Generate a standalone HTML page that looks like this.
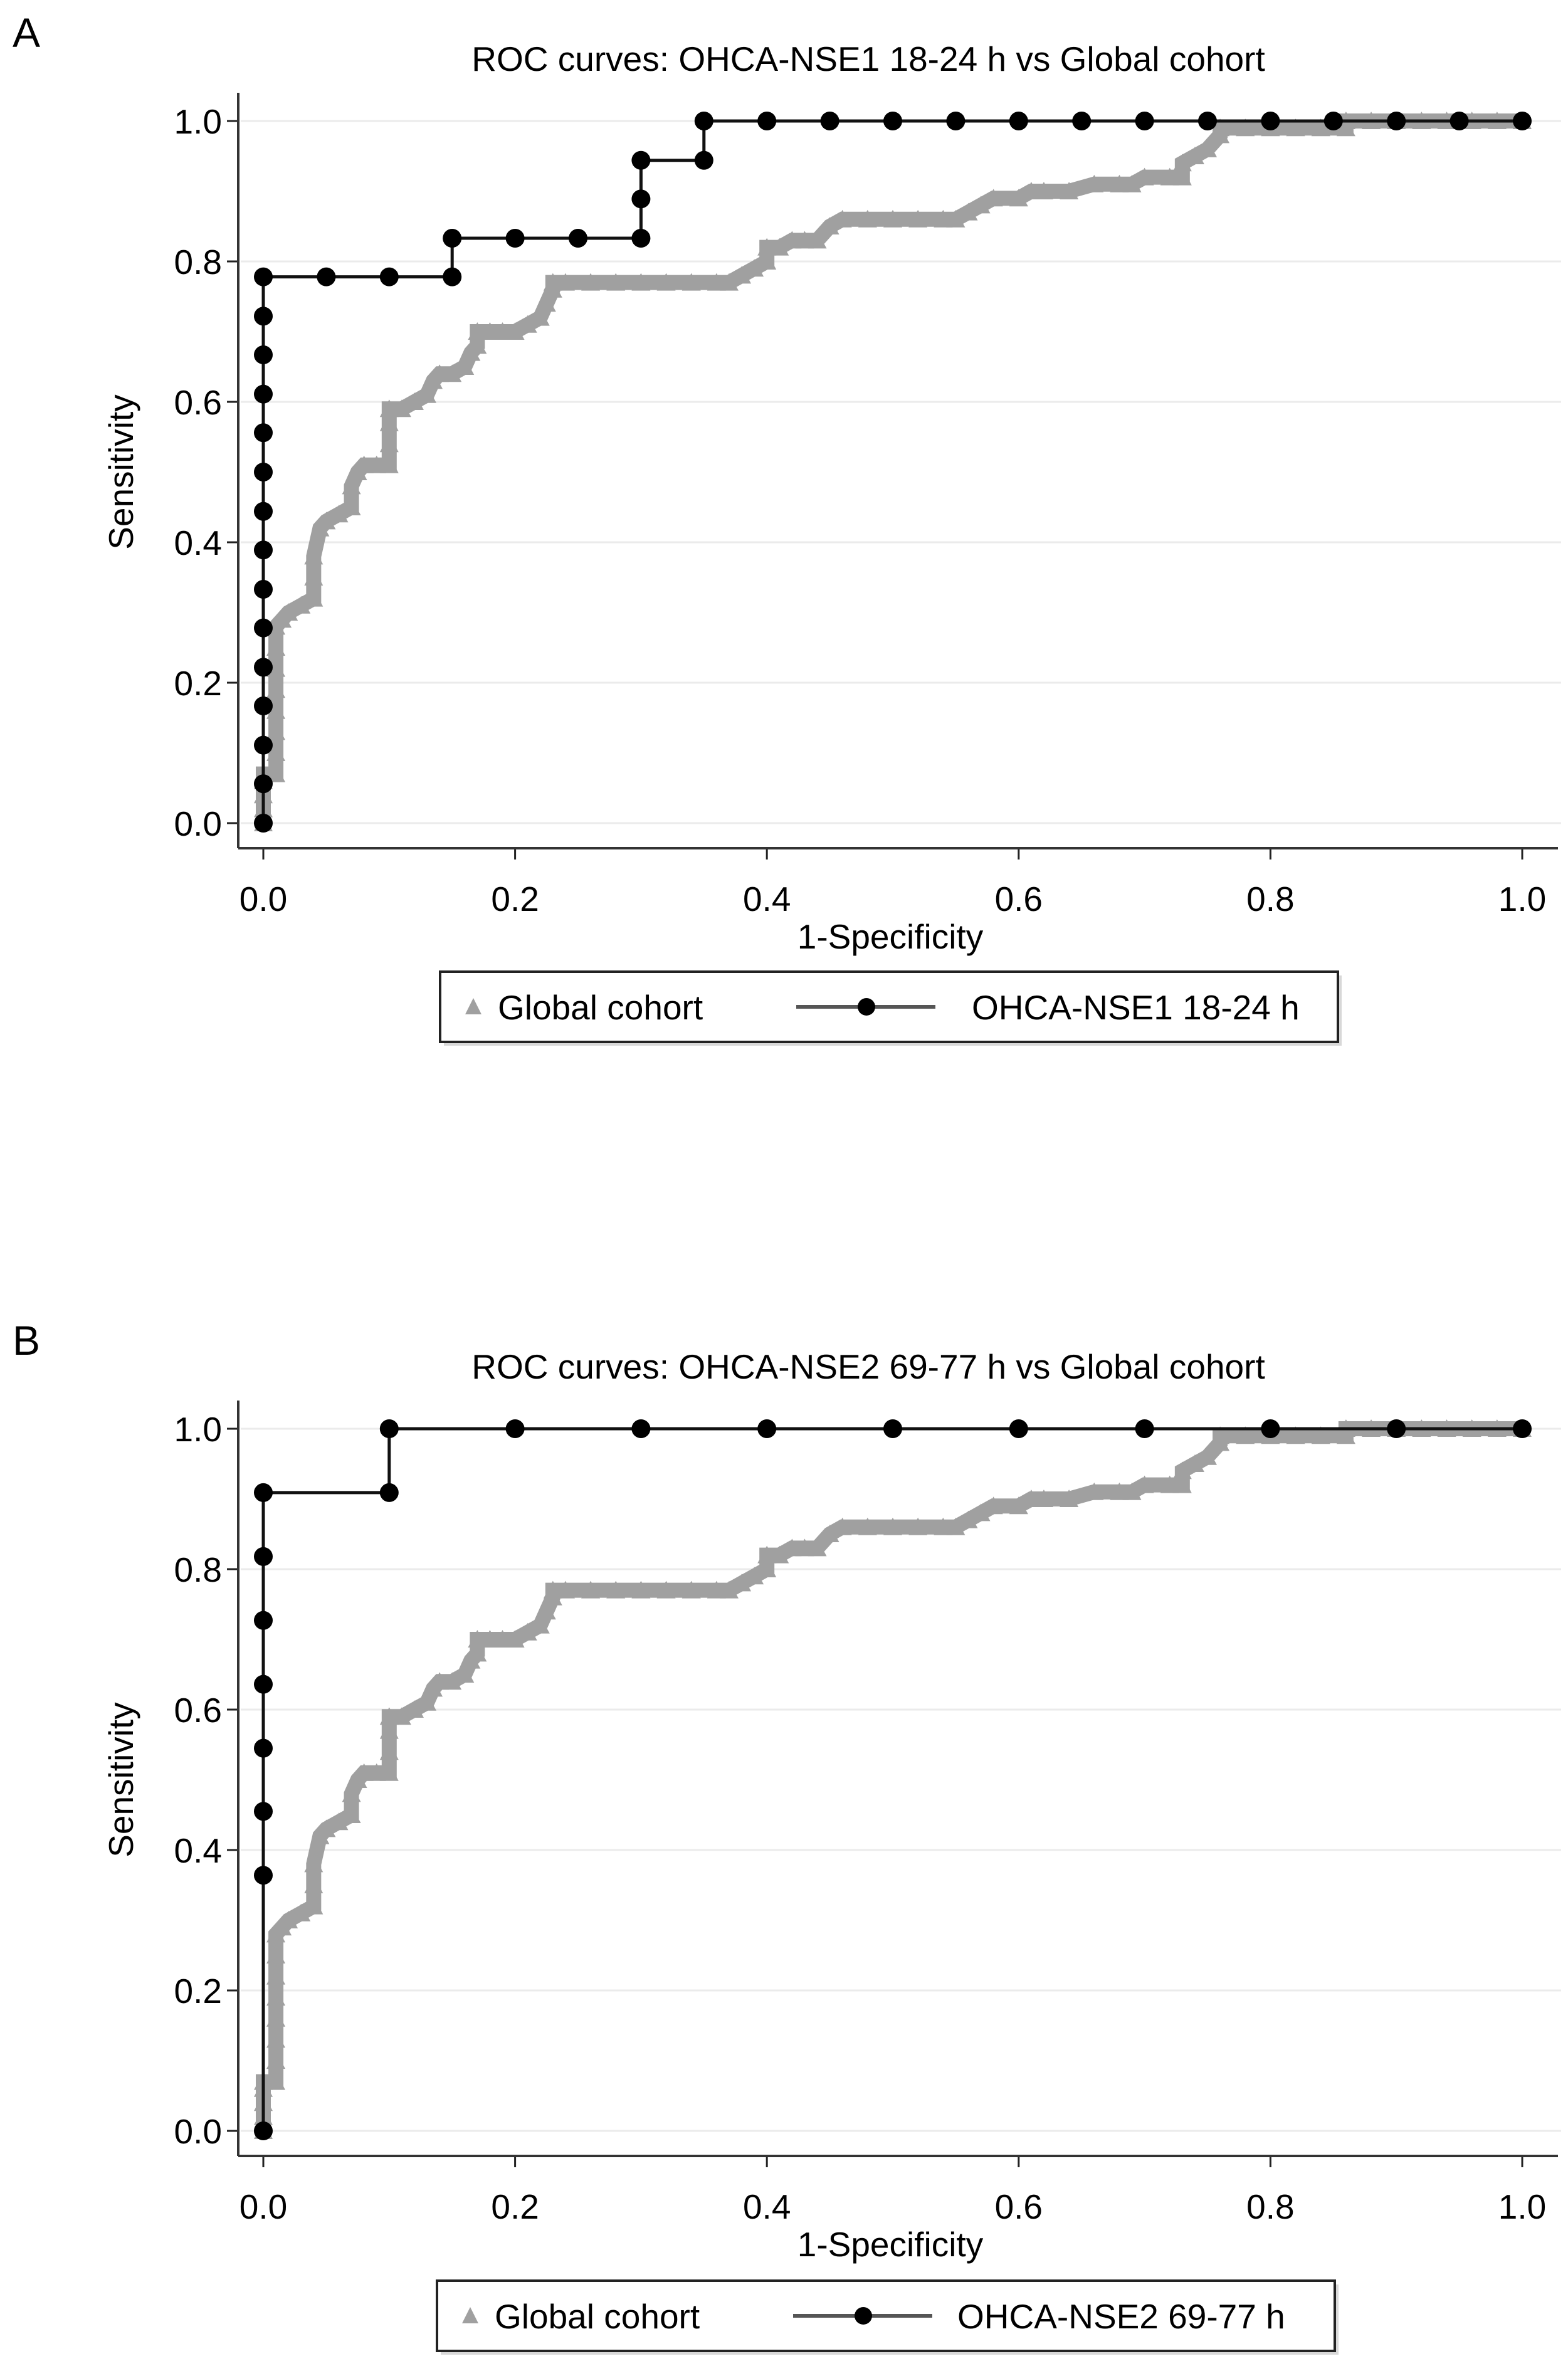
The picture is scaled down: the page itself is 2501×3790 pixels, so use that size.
<!DOCTYPE html>
<html><head><meta charset="utf-8"><style>
html,body{margin:0;padding:0;background:#fff}
svg{display:block}
text{font-family:"Liberation Sans",sans-serif;fill:#000}
</style></head><body>
<svg id="fig" width="2501" height="3790" viewBox="0 0 2501 3790" xmlns="http://www.w3.org/2000/svg"></svg>
<script>
const xTicks=[0,0.2,0.4,0.6,0.8,1.0];
const yTicks=[0,0.2,0.4,0.6,0.8,1.0];
const tickLabels=["0.0","0.2","0.4","0.6","0.8","1.0"];
const globalFpr=[0,0,0,0,0,0.01,0.01,0.01,0.01,0.01,0.01,0.01,0.01,0.015,0.02,0.03,0.04,0.04,0.04,0.045,0.05,0.06,0.07,0.07,0.075,0.08,0.09,0.1,0.1,0.1,0.1,0.11,0.12,0.13,0.135,0.14,0.15,0.16,0.165,0.17,0.17,0.18,0.19,0.2,0.21,0.22,0.225,0.23,0.23,0.24,0.26,0.28,0.3,0.32,0.34,0.36,0.37,0.38,0.39,0.4,0.4,0.41,0.42,0.43,0.44,0.45,0.46,0.48,0.5,0.52,0.54,0.55,0.56,0.57,0.58,0.6,0.61,0.62,0.64,0.66,0.68,0.69,0.7,0.72,0.73,0.73,0.74,0.75,0.76,0.76,0.78,0.8,0.82,0.84,0.86,0.86,0.88,0.9,0.92,0.94,0.96,0.98,1.0];
const globalTpr=[0,0.02,0.04,0.06,0.07,0.07,0.1,0.13,0.16,0.19,0.22,0.25,0.28,0.29,0.30,0.31,0.32,0.35,0.38,0.42,0.43,0.44,0.45,0.48,0.50,0.51,0.51,0.51,0.54,0.57,0.59,0.59,0.60,0.61,0.63,0.64,0.64,0.65,0.67,0.68,0.70,0.70,0.70,0.70,0.71,0.72,0.74,0.76,0.77,0.77,0.77,0.77,0.77,0.77,0.77,0.77,0.77,0.78,0.79,0.80,0.82,0.82,0.83,0.83,0.83,0.85,0.86,0.86,0.86,0.86,0.86,0.86,0.87,0.88,0.89,0.89,0.90,0.90,0.90,0.91,0.91,0.91,0.92,0.92,0.92,0.94,0.95,0.96,0.98,0.99,0.99,0.99,0.99,0.99,0.99,1.0,1.0,1.0,1.0,1.0,1.0,1.0,1.0];
const nse1Fpr=[0,0,0,0,0,0,0,0,0,0,0,0,0,0,0,0.05,0.1,0.15,0.15,0.2,0.25,0.3,0.3,0.3,0.35,0.35,0.4,0.45,0.5,0.55,0.6,0.65,0.7,0.75,0.8,0.85,0.9,0.95,1.0];
const nse1Tpr=[0,0.056,0.111,0.167,0.222,0.278,0.333,0.389,0.444,0.5,0.556,0.611,0.667,0.722,0.778,0.778,0.778,0.778,0.833,0.833,0.833,0.833,0.889,0.944,0.944,1,1,1,1,1,1,1,1,1,1,1,1,1,1];
const nse2Fpr=[0,0,0,0,0,0,0,0,0.1,0.1,0.2,0.3,0.4,0.5,0.6,0.7,0.8,0.9,1.0];
const nse2Tpr=[0,0.364,0.455,0.545,0.636,0.727,0.818,0.909,0.909,1,1,1,1,1,1,1,1,1,1];

const NS="http://www.w3.org/2000/svg";
const svg=document.getElementById('fig');
function mk(tag,attrs,parent,txt){const e=document.createElementNS(NS,tag);for(const k in attrs)e.setAttribute(k,attrs[k]);if(txt!==undefined)e.textContent=txt;(parent||svg).appendChild(e);return e;}
const FS=55;
function panel(o){
  const g=mk('g',{});
  
  
  const X0=420,X1=2428,Y1=o.top,Y0=o.top+1120;
  const sx=v=>X0+(X1-X0)*v, sy=v=>Y0-(Y0-Y1)*v;
  const axL=380, axB=Y0+40;
  let t=mk('text',{x:20,y:o.top-118,'font-size':66},g,o.letter);
  
  t=mk('text',{x:1385,y:o.top-80,'font-size':FS,'text-anchor':'middle'},g,o.title);
  
  yTicks.forEach((v,i)=>{
    let l=mk('line',{x1:axL+4,x2:2490,y1:sy(v),y2:sy(v),stroke:'#ebebeb','stroke-width':3},g);
    
    l=mk('line',{x1:axL-18,x2:axL,y1:sy(v),y2:sy(v),stroke:'#222','stroke-width':3},g);
    
    const tx=mk('text',{x:axL-26,y:sy(v)+20,'font-size':FS,'text-anchor':'end'},g,tickLabels[i]);
    
  });
  xTicks.forEach((v,i)=>{
    let l=mk('line',{x1:sx(v),x2:sx(v),y1:axB,y2:axB+18,stroke:'#222','stroke-width':3},g);
    
    const tx=mk('text',{x:sx(v),y:axB+100,'font-size':FS,'text-anchor':'middle'},g,tickLabels[i]);
    
  });
  let a=mk('line',{x1:axL,x2:axL,y1:o.top-45,y2:axB,stroke:'#333','stroke-width':4},g);
  
  a=mk('line',{x1:axL,x2:2485,y1:axB,y2:axB,stroke:'#333','stroke-width':4},g);
  
  t=mk('text',{x:1420,y:axB+160,'font-size':FS,'text-anchor':'middle'},g,'1-Specificity');
  
  t=mk('text',{x:0,y:0,'font-size':FS,'text-anchor':'middle',transform:`translate(212,${(Y0+Y1)/2}) rotate(-90)`},g,'Sensitivity');
  
  const gp=globalFpr.map((v,i)=>sx(v)+','+sy(globalTpr[i])).join(' ');
  let pl=mk('polyline',{points:gp,fill:'none',stroke:'#a0a0a0','stroke-width':24,'stroke-linejoin':'miter'},g);
  
  globalFpr.forEach((v,i)=>{
    const cx=sx(v),cy=sy(globalTpr[i]);
    const tr=mk('polygon',{points:`${cx-15},${cy+13} ${cx+15},${cy+13} ${cx},${cy-15}`,fill:'#a0a0a0'},g);
    
  });
  const F=o.fpr,T=o.tpr;
  pl=mk('polyline',{points:F.map((v,i)=>sx(v)+','+sy(T[i])).join(' '),fill:'none',stroke:'#111','stroke-width':5},g);
  
  F.forEach((v,i)=>{
    const c=mk('circle',{cx:sx(v),cy:sy(T[i]),r:15,fill:'#000'},g);
    
  });
  const lt=o.legTop, lb=lt+112, lc=(lt+lb)/2;
  const lg=mk('g',{},g);
  
  mk('rect',{x:o.legX+6,y:lt+6,width:1432,height:112,fill:'#d8d8d8'},lg);
  mk('rect',{x:o.legX,y:lt,width:1432,height:112,fill:'#fff',stroke:'#222','stroke-width':4},lg);
  const e1=mk('g',{},lg);
  
  mk('polygon',{points:`${o.legX+40},${lc+12} ${o.legX+66},${lc+12} ${o.legX+53},${lc-14}`,fill:'#a0a0a0'},e1);
  mk('text',{x:o.legX+92,y:lc+20,'font-size':FS},e1,'Global cohort');
  const e2=mk('g',{},lg);
  
  mk('line',{x1:o.legX+568,x2:o.legX+790,y1:lc,y2:lc,stroke:'#555','stroke-width':6},e2);
  mk('circle',{cx:o.legX+680,cy:lc,r:14,fill:'#000'},e2);
  mk('text',{x:o.legX+o.legTextX,y:lc+20,'font-size':FS},e2,o.legLabel);
}
panel({name:'panel-a',letter:'A',top:193,title:'ROC curves: OHCA-NSE1 18-24 h vs Global cohort',fpr:nse1Fpr,tpr:nse1Tpr,legTop:1550,legX:702,legTextX:848,legLabel:'OHCA-NSE1 18-24 h'});
panel({name:'panel-b',letter:'B',top:2279,title:'ROC curves: OHCA-NSE2 69-77 h  vs Global cohort',fpr:nse2Fpr,tpr:nse2Tpr,legTop:3638,legX:697,legTextX:830,legLabel:'OHCA-NSE2 69-77 h'});
</script>
</body></html>
